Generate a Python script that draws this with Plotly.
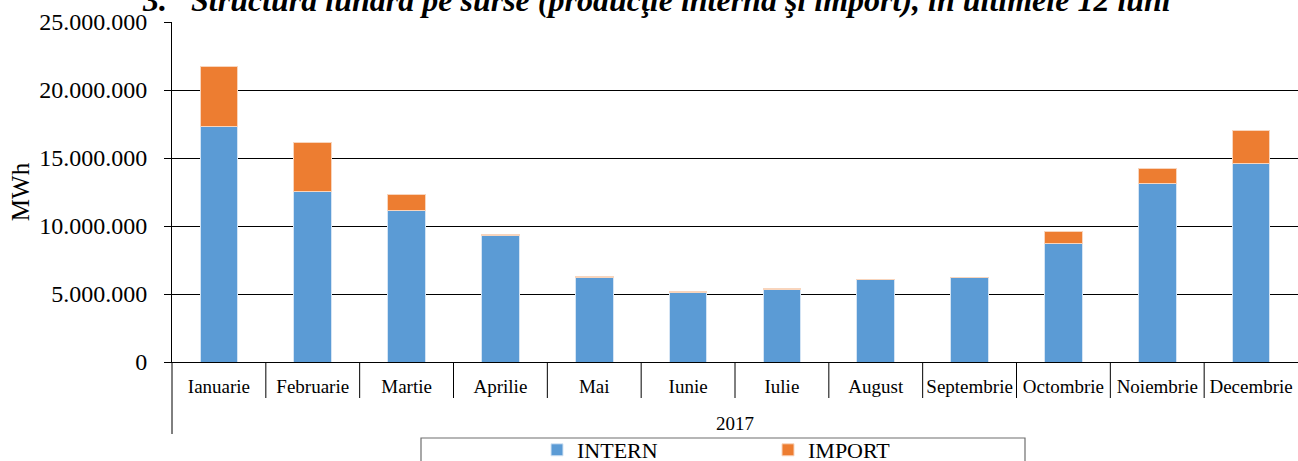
import plotly.graph_objects as go

months = ["Ianuarie", "Februarie", "Martie", "Aprilie", "Mai", "Iunie", "Iulie",
          "August", "Septembrie", "Octombrie", "Noiembrie", "Decembrie"]
year_label = "2017"
intern = [17330000, 12570000, 11130000, 9300000, 6240000, 5120000, 5350000,
          6050000, 6230000, 8680000, 13110000, 14630000]
import_ = [4430000, 3580000, 1220000, 90000, 60000, 80000, 70000,
           30000, 20000, 880000, 1150000, 2380000]
y_ticks = [0, 5000000, 10000000, 15000000, 20000000, 25000000]
title_text = "3.   Structura lunară pe surse (producţie internă şi import), în ultimele 12 luni"

W, H = 1298, 461
ML, MR, MT, MB = 172, 0, 22, 99
PW, PH = W - ML - MR, H - MT - MB

def px_x(p):
    return (p - ML) / PW

def px_y(p):
    return (H - MB - p) / PH

FONT = "Liberation Serif, Times New Roman, serif"

fig = go.Figure()
fig.add_trace(go.Bar(x=months, y=intern, name="INTERN",
                     marker=dict(color="#5B9BD5", line=dict(color="#d4e4f4", width=1))))
fig.add_trace(go.Bar(x=months, y=import_, name="IMPORT",
                     marker=dict(color="#ED7D31", line=dict(color="#f8d5bd", width=1))))

shapes = []
n = len(months)
for k in range(1, n):
    shapes.append(dict(type="line", xref="paper", yref="paper",
                       x0=k / n, x1=k / n, y0=0, y1=px_y(398),
                       line=dict(color="black", width=1)))
shapes.append(dict(type="line", xref="paper", yref="paper",
                   x0=0, x1=0, y0=0, y1=px_y(434),
                   line=dict(color="black", width=1)))
# legend frame
shapes.append(dict(type="rect", xref="paper", yref="paper",
                   x0=px_x(421), x1=px_x(1025), y0=px_y(438), y1=px_y(475),
                   line=dict(color="#6e6e6e", width=1.2), fillcolor="rgba(0,0,0,0)"))

annotations = [
    dict(text=year_label, xref="paper", yref="paper", x=0.5, y=px_y(423),
         xanchor="center", yanchor="middle", showarrow=False,
         font=dict(family=FONT, size=19, color="black")),
    dict(text="<b><i>" + title_text + "</i></b>", xref="paper", yref="paper",
         x=px_x(656), y=px_y(20), xanchor="center", yanchor="bottom", showarrow=False,
         font=dict(family=FONT, size=32, color="black")),
]

fig.update_layout(
    width=W, height=H,
    margin=dict(l=ML, r=MR, t=MT, b=MB, autoexpand=False),
    barmode="stack", bargap=0.6,
    plot_bgcolor="white", paper_bgcolor="white",
    separators=",.",
    font=dict(family=FONT, color="black"),
    showlegend=True,
    legend=dict(orientation="h", x=px_x(537), xanchor="left", y=px_y(429), yanchor="top",
                font=dict(family=FONT, size=22, color="black"),
                entrywidth=186, entrywidthmode="pixels", bgcolor="rgba(0,0,0,0)",
                traceorder="normal"),
    shapes=shapes,
    annotations=annotations,
    xaxis=dict(type="category", range=[-0.5, n - 0.5], showline=True, linecolor="black",
               linewidth=1, ticks="outside", ticklen=7, tickcolor="rgba(0,0,0,0)",
               tickfont=dict(family=FONT, size=19, color="black"), showgrid=False,
               fixedrange=True, automargin=False),
    yaxis=dict(range=[0, 25000000], tickvals=y_ticks, tickformat=",d",
               showline=True, linecolor="black", linewidth=1,
               ticks="outside", ticklen=7, tickcolor="black", ticklabelstandoff=12,
               showgrid=True, gridcolor="black", gridwidth=1, zeroline=False,
               automargin=False,
               tickfont=dict(family=FONT, size=24, color="black"),
               title=dict(text="MWh", font=dict(family=FONT, size=25, color="black"), standoff=2)),
)

fig.write_html("out.html", config={"displayModeBar": False},
               post_script="document.body.style.margin='0';document.body.style.overflow='hidden';")
